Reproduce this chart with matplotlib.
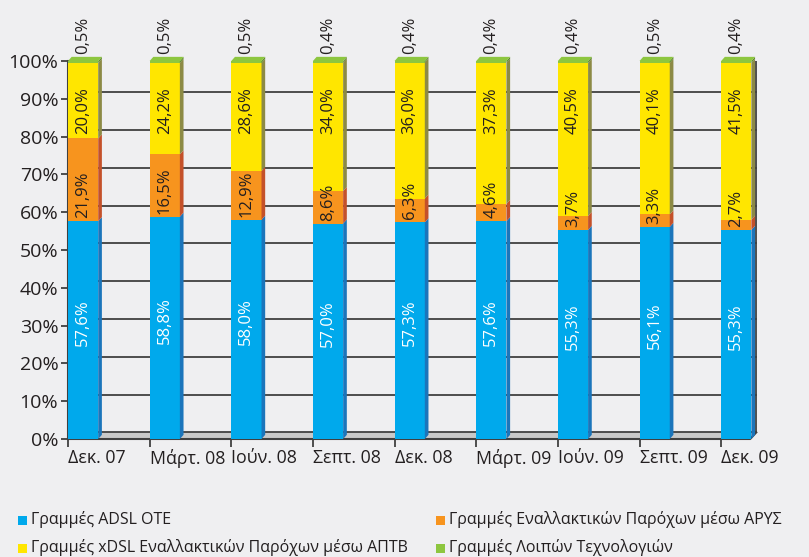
import matplotlib
matplotlib.use("Agg")
import matplotlib.pyplot as plt
from matplotlib.patches import Polygon, Rectangle

plt.rcParams["font.family"] = ["Open Sans", "DejaVu Sans"]

periods = ["Δεκ. 07", "Μάρτ. 08", "Ιούν. 08", "Σεπτ. 08", "Δεκ. 08",
           "Μάρτ. 09", "Ιούν. 09", "Σεπτ. 09", "Δεκ. 09"]
adsl_ote = [57.6, 58.8, 58.0, 57.0, 57.3, 57.6, 55.3, 56.1, 55.3]
arys = [21.9, 16.5, 12.9, 8.6, 6.3, 4.6, 3.7, 3.3, 2.7]
xdsl_aptv = [20.0, 24.2, 28.6, 34.0, 36.0, 37.3, 40.5, 40.1, 41.5]
other_tech = [0.5, 0.5, 0.5, 0.4, 0.4, 0.4, 0.4, 0.5, 0.4]
series_names = ["Γραμμές ADSL ΟΤΕ",
                "Γραμμές Εναλλακτικών Παρόχων μέσω ΑΡΥΣ",
                "Γραμμές xDSL Εναλλακτικών Παρόχων μέσω ΑΠΤΒ",
                "Γραμμές Λοιπών Τεχνολογιών"]

bg = "#efeff1"
front = ["#00a9ec", "#f7941e", "#ffe600", "#8dc63f"]
side = ["#1b75bb", "#c4512a", "#8c8a45", "#5d8a2a"]
text_col = "#231f20"
grid_col = "#404040"

w = 0.37          # bar front width
bdx, bdy = 0.045, 1.1   # bar depth
wdx, wdy = 0.075, 1.75  # back wall offset
xr = 8.43         # back wall right edge

fig = plt.figure(figsize=(8.09, 5.57), dpi=100, facecolor=bg)
ax = fig.add_axes([68 / 809, 118 / 557, 694 / 809, 378 / 557])
ax.set_facecolor(bg)
ax.set_xlim(0, 8.5)
ax.set_ylim(0, 100)
for s in ax.spines.values():
    s.set_visible(False)

# floor and back wall
ax.add_patch(Polygon([(0, 0), (xr - wdx, 0), (xr, wdy), (wdx, wdy)],
                     closed=True, fc="#c9c9c9", ec="none", zorder=1))
for g in range(0, 101, 10):
    ax.plot([wdx, xr], [g + wdy, g + wdy], color=grid_col, lw=1.3, zorder=1)
ax.plot([xr, xr], [wdy, 100 + wdy], color=grid_col, lw=1.3, zorder=1)
ax.plot([0, xr - wdx, xr], [0, 0, wdy], color=grid_col, lw=1.5, zorder=1,
        clip_on=False)
ax.plot([0, 0], [0, 100], color=grid_col, lw=1.5, zorder=1, clip_on=False)

# stacked bars with a little depth
for i in range(len(periods)):
    vals = [adsl_ote[i], arys[i], xdsl_aptv[i], other_tech[i]]
    bottom = 0
    for k, v in enumerate(vals):
        top = 100 if k == 3 else bottom + v
        ax.add_patch(Rectangle((i, bottom), w, top - bottom, fc=front[k],
                               ec="none", zorder=3, clip_on=False))
        ax.add_patch(Polygon([(i + w, bottom), (i + w + bdx, bottom + bdy),
                              (i + w + bdx, top + bdy), (i + w, top)],
                             closed=True, fc=side[k], ec="none", zorder=3,
                             clip_on=False))
        bottom = top
    ax.add_patch(Polygon([(i, 100), (i + bdx, 100 + bdy),
                          (i + w + bdx, 100 + bdy), (i + w, 100)],
                         closed=True, fc="#8dc63f", ec="none", zorder=3,
                         clip_on=False))

    cx = i + w / 2
    ax.text(cx, adsl_ote[i] / 2 + 2, f"{adsl_ote[i]:.1f}%".replace(".", ","),
            rotation=90, ha="center", va="center", color="white",
            fontsize=12, zorder=4)
    ax.text(cx, adsl_ote[i] + 0.8, f"{arys[i]:.1f}%".replace(".", ","),
            rotation=90, ha="center", va="bottom", color=text_col,
            fontsize=12, zorder=4)
    ax.text(cx, 93, f"{xdsl_aptv[i]:.1f}%".replace(".", ","),
            rotation=90, ha="center", va="top", color=text_col,
            fontsize=12, zorder=4)
    ax.text(cx, 101.8, f"{other_tech[i]:.1f}%".replace(".", ","),
            rotation=90, ha="center", va="bottom", color=text_col,
            fontsize=12, zorder=4, clip_on=False)

ax.set_yticks(range(0, 101, 10))
ax.set_yticklabels([f"{t}%" for t in range(0, 101, 10)])
ax.set_xticks(range(len(periods)))
ax.set_xticklabels(periods, ha="left")
ax.tick_params(axis="y", length=5, width=1.3, color=grid_col, pad=2,
               labelsize=14, labelcolor=text_col)
ax.tick_params(axis="x", length=6, width=1.3, color=grid_col, pad=1,
               labelsize=12.8, labelcolor=text_col)

# legend
leg_pos = [(18, 520), (436, 520), (18, 548), (436, 548)]
for k, (px, py) in enumerate(leg_pos):
    fig.add_artist(Rectangle((px / 809, 1 - (py + 4.5) / 557), 9 / 809,
                             9 / 557, transform=fig.transFigure,
                             fc=front[k], ec="none"))
    fig.text((px + 13) / 809, 1 - py / 557, series_names[k], ha="left",
             va="center", fontsize=11.5, color=text_col)

fig.savefig("out.png", dpi=100, facecolor=bg)
